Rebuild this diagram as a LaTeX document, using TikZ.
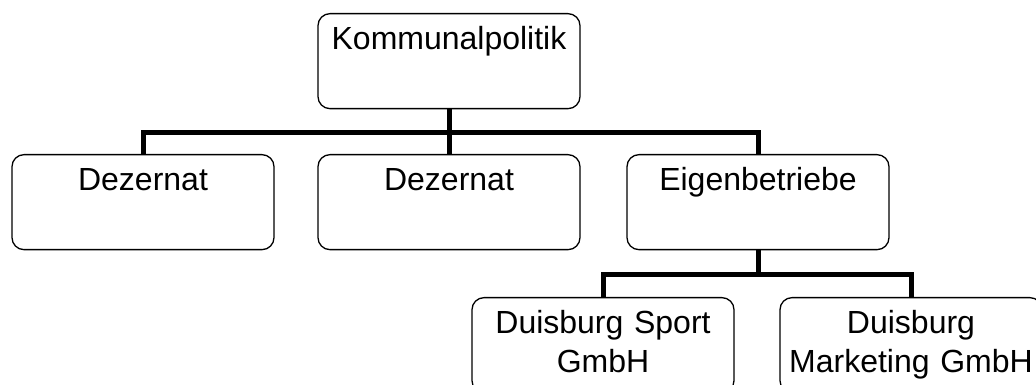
\documentclass[tikz,border=0pt]{standalone}
\usepackage{fontspec}
\setmainfont{Liberation Sans}
\begin{document}
\begin{tikzpicture}[x=1pt,y=1pt,
  box/.style={draw=black, line width=1.3pt, rounded corners=12pt, fill=white,
    minimum width=262pt, text width=256pt, align=center, inner sep=0pt,
    inner xsep=3pt, text height=36pt, text depth=59pt,
    font=\fontsize{32}{39}\selectfont},
  conn/.style={line width=5pt, line join=miter, line cap=butt}]
\useasboundingbox (0,0) rectangle (1036,385);
% boxes (anchor = base, at baseline of first line)
\node[box, anchor=north] (top) at (449,372) {Kommunalpolitik};
\node[box, anchor=north] (d1) at (143,231) {Dezernat};
\node[box, anchor=north] (d2) at (449,231) {Dezernat};
\node[box, anchor=north] (eig) at (758,231) {Eigenbetriebe};
\node[box, anchor=north] (sport) at (603,88) {Duisburg Sport\\GmbH};
\node[box, anchor=north] (mark) at (911,88) {Duisburg\\Marketing GmbH};
% bus points
\coordinate (b1) at (449,252);
\coordinate (b2) at (758,110);
% connectors
\draw[conn] (top.south) -- (d2.north);
\draw[conn] (d1.north) |- (b1) -| (eig.north);
\draw[conn] (eig.south) -- (b2);
\draw[conn] (sport.north) |- (b2) -| (mark.north);
\end{tikzpicture}
\end{document}
